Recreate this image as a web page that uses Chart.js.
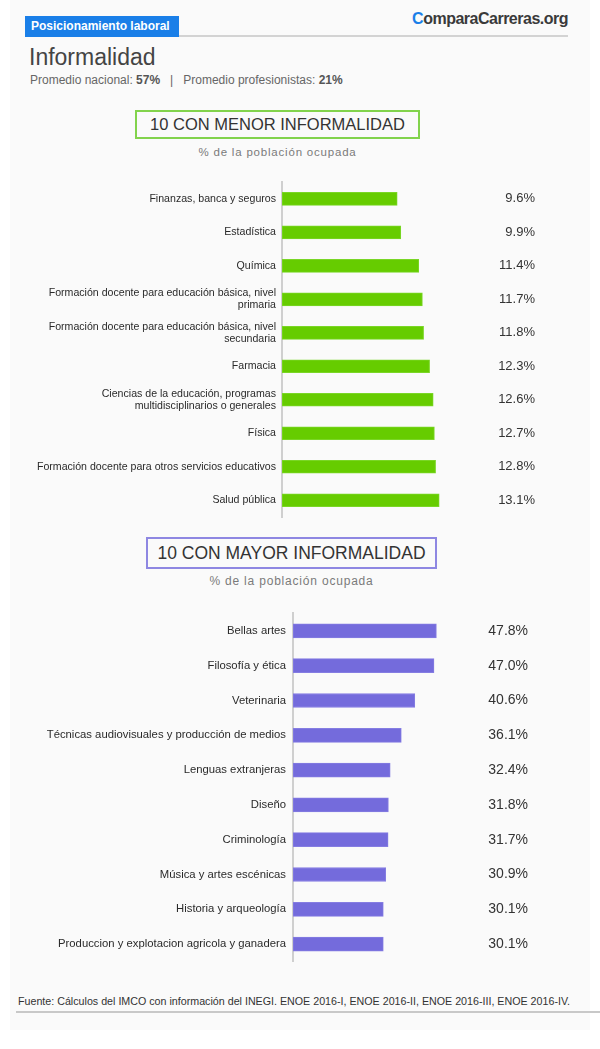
<!DOCTYPE html>
<html lang="es">
<head>
<meta charset="utf-8">
<title>Informalidad</title>
<script src="https://cdn.jsdelivr.net/npm/chart.js@4"></script>
<style>
    body {
        margin: 0;
        width: 600px;
        height: 1049px;
        position: relative;
        background: #fff;
        font-family: "Liberation Sans", Arial, Helvetica, sans-serif;
        color: #333;
        overflow: hidden;
    }
    .panel { position: absolute; left: 10px; top: 0; width: 580px; height: 1030px; background: #fafafa; }
    .abs { position: absolute; white-space: nowrap; }
    .tag { left: 25px; top: 16px; width: 148px; height: 21px; line-height: 21px; padding-left: 6px;
           background: #1a7fe8; color: #fff; font-weight: bold; font-size: 12px; }
    .rule { left: 179px; top: 35px; width: 389px; height: 2px; background: #d3d3d3; }
    .logo { right: 32px; top: 10px; font-size: 16px; font-weight: bold; color: #3a3a3a; letter-spacing: -0.5px; }
    .logo span { color: #1a7fe8; }
    .title { left: 29px; top: 46px; font-size: 23px; line-height: 23px; color: #444; }
    .sub { left: 30px; top: 74px; font-size: 12px; line-height: 12px; color: #666; }
    .sub b { color: #555; }
    .box { box-sizing: border-box; text-align: center; color: #333; }
    .box1 { left: 135px; top: 110px; width: 285px; height: 29px; border: 2px solid #82d34c;
            font-size: 16.5px; line-height: 25px; }
    .box2 { left: 146px; top: 537px; width: 291px; height: 32px; border: 2px solid #8e87e2;
            font-size: 17.5px; line-height: 28px; }
    .cap { text-align: center; color: #7a7a7a; letter-spacing: 0.8px; }
    .cap1 { left: 135px; width: 285px; top: 146px; font-size: 11.5px; line-height: 12px; }
    .cap2 { left: 146px; width: 291px; top: 575px; font-size: 12px; line-height: 13px; }
    .chartbox { position: absolute; left: 0; width: 600px; }
    .foot { left: 16px; top: 996px; width: 584px; padding-left: 2px; padding-bottom: 4px;
            font-size: 10.7px; line-height: 11px; color: #333; border-bottom: 2px solid #c8c8c8;
            box-sizing: border-box; }
</style>
</head>
<body>
<div class="panel"></div>

<div class="abs tag">Posicionamiento laboral</div>
<div class="abs rule"></div>
<div class="abs logo"><span>C</span>omparaCarreras.org</div>

<div class="abs title">Informalidad</div>
<div class="abs sub">Promedio nacional: <b>57%</b> &nbsp;&nbsp;|&nbsp;&nbsp; Promedio profesionistas: <b>21%</b></div>

<div class="abs box box1">10 CON MENOR INFORMALIDAD</div>
<div class="abs cap cap1">% de la población ocupada</div>
<div class="chartbox" style="top:170px;height:360px;"><canvas id="menor-chart"></canvas></div>

<div class="abs box box2">10 CON MAYOR INFORMALIDAD</div>
<div class="abs cap cap2">% de la población ocupada</div>
<div class="chartbox" style="top:600px;height:375px;"><canvas id="mayor-chart"></canvas></div>

<div class="abs foot">Fuente: Cálculos del IMCO con información del INEGI. ENOE 2016-I, ENOE 2016-II, ENOE 2016-III, ENOE 2016-IV.</div>

<script>
// Carreras con menor informalidad (% de la población ocupada)
const menorLabels = [
    'Finanzas, banca y seguros',
    'Estadística',
    'Química',
    ['Formación docente para educación básica, nivel', 'primaria'],
    ['Formación docente para educación básica, nivel', 'secundaria'],
    'Farmacia',
    ['Ciencias de la educación, programas', 'multidisciplinarios o generales'],
    'Física',
    'Formación docente para otros servicios educativos',
    'Salud pública'
];
const menorValues = [9.6, 9.9, 11.4, 11.7, 11.8, 12.3, 12.6, 12.7, 12.8, 13.1];

// Carreras con mayor informalidad
const mayorLabels = [
    'Bellas artes',
    'Filosofía y ética',
    'Veterinaria',
    'Técnicas audiovisuales y producción de medios',
    'Lenguas extranjeras',
    'Diseño',
    'Criminología',
    'Música y artes escénicas',
    'Historia y arqueología',
    'Produccion y explotacion agricola y ganadera'
];
const mayorValues = [47.8, 47.0, 40.6, 36.1, 32.4, 31.8, 31.7, 30.9, 30.1, 30.1];

const FONT = '"Liberation Sans", Arial, Helvetica, sans-serif';

// Draws the "9.6%" style numbers in a column to the right of the bars
const valueLabels = {
    id: 'valueLabels',
    afterDatasetsDraw(chart, args, opts) {
        const ctx = chart.ctx;
        const yScale = chart.scales.y;
        ctx.save();
        ctx.font = opts.size + 'px ' + FONT;
        ctx.fillStyle = '#333';
        ctx.textAlign = 'right';
        ctx.textBaseline = 'middle';
        chart.data.datasets[0].data.forEach((v, i) => {
            ctx.fillText(v.toFixed(1) + '%', opts.x, yScale.getPixelForValue(i));
        });
        ctx.restore();
    }
};

function makeChart(canvasId, labels, values, cfg) {
    return new Chart(document.getElementById(canvasId), {
        type: 'bar',
        data: {
            labels: labels,
            datasets: [{
                data: values,
                backgroundColor: cfg.color,
                borderColor: cfg.edge,
                borderWidth: 1,
                borderSkipped: false,
                barThickness: cfg.thickness
            }]
        },
        options: {
            indexAxis: 'y',
            responsive: true,
            maintainAspectRatio: false,
            animation: false,
            layout: { padding: cfg.padding },
            plugins: {
                legend: { display: false },
                tooltip: { enabled: false },
                valueLabels: { x: cfg.valueX, size: cfg.valueSize }
            },
            scales: {
                x: { display: false, min: 0, max: cfg.max },
                y: {
                    grid: { display: false, drawTicks: false },
                    border: { display: true, color: '#cfcfcf', width: 2 },
                    ticks: {
                        color: '#2a2a2a',
                        padding: cfg.tickPad,
                        font: { family: FONT, size: cfg.labelSize, lineHeight: 1.15 }
                    },
                    afterFit(scale) { scale.width = cfg.axisX; }
                }
            }
        },
        plugins: [valueLabels]
    });
}

makeChart('menor-chart', menorLabels, menorValues, {
    color: '#66cc00', edge: '#7ad626', thickness: 13, max: 20,
    padding: { top: 10, bottom: 13, left: 0, right: 78 },
    axisX: 282, tickPad: 6, labelSize: 10.6, valueX: 535, valueSize: 13
});

makeChart('mayor-chart', mayorLabels, mayorValues, {
    color: '#746bdc', edge: '#857de2', thickness: 14, max: 60,
    padding: { top: 12, bottom: 7, left: 0, right: 127 },
    axisX: 293, tickPad: 7, labelSize: 11.3, valueX: 528, valueSize: 14
});
</script>
</body>
</html>
